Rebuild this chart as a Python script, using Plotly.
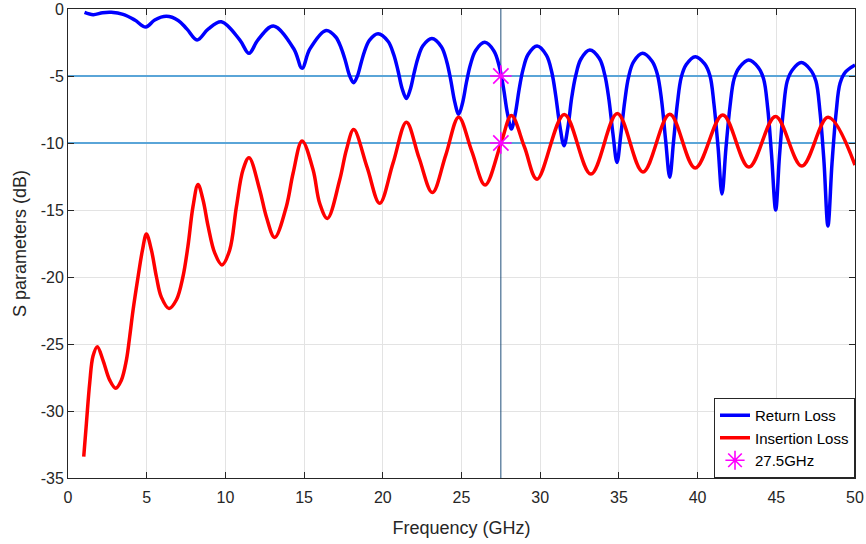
import plotly.graph_objects as go

# Return Loss (blue)
freq_rl = [1.05, 1.6, 2.2, 2.75, 3.5, 4.24, 4.94, 5.51, 6.25, 7.0, 7.56, 8.2, 8.9, 9.74,
           10.91, 11.5, 12.07, 13.05, 14.36, 14.87, 15.36, 16.4,
           17.01, 17.36, 17.63, 17.89, 18.15, 18.38, 18.62, 18.85, 19.16, 19.7,
           20.33, 20.69, 20.96, 21.23, 21.5, 21.74, 21.99, 22.23, 22.55, 23.12,
           23.72, 24.06, 24.31, 24.57, 24.82, 25.07, 25.32, 25.57, 25.9, 26.48,
           27.07, 27.41, 27.66, 27.92, 28.17, 28.41, 28.66, 28.9, 29.23, 29.8,
           30.4, 30.74, 30.98, 31.25, 31.51, 31.76, 32.0, 32.25, 32.58, 33.15,
           33.76, 34.1, 34.36, 34.62, 34.88, 35.12, 35.37, 35.61, 35.93, 36.5,
           37.11, 37.45, 37.71, 37.97, 38.23, 38.47, 38.72, 38.96, 39.28, 39.85,
           40.45, 40.79, 41.04, 41.3, 41.55, 41.8, 42.06, 42.32, 42.66, 43.25,
           43.85, 44.19, 44.45, 44.7, 44.96, 45.2, 45.45, 45.69, 46.02, 46.59,
           47.18, 47.52, 47.77, 48.03, 48.28, 48.54, 48.8, 49.05, 49.4, 50.0]
rl_db = [-0.25, -0.42, -0.28, -0.25, -0.4, -0.82, -1.35, -0.82, -0.55, -0.85, -1.5, -2.31, -1.5, -0.95,
         -2.3, -3.31, -2.3, -1.27, -3.0, -4.43, -3.0, -1.6,
         -2.09, -2.93, -3.9, -4.97, -5.5, -5.02, -4.03, -3.12, -2.32, -1.85,
         -2.41, -3.39, -4.57, -5.95, -6.67, -6.03, -4.77, -3.67, -2.74, -2.2,
         -2.81, -3.91, -5.26, -6.93, -7.86, -7.0, -5.43, -4.14, -3.09, -2.49,
         -3.15, -4.33, -5.84, -7.79, -8.95, -7.87, -6.01, -4.56, -3.4, -2.76,
         -3.46, -4.74, -6.41, -8.73, -10.2, -8.83, -6.63, -5.0, -3.75, -3.06,
         -3.7, -4.9, -6.7, -9.3, -11.45, -9.4, -6.9, -5.1, -3.95, -3.31,
         -3.9, -4.9, -6.8, -9.8, -12.55, -9.9, -7.0, -5.1, -4.15, -3.56,
         -4.1, -5.0, -7.1, -10.3, -13.8, -10.4, -7.25, -5.2, -4.35, -3.8,
         -4.35, -5.2, -7.35, -10.9, -15.0, -11.0, -7.55, -5.4, -4.55, -4.0,
         -4.55, -5.4, -7.6, -11.4, -16.2, -11.5, -7.75, -5.55, -4.7, -4.18]

# Insertion Loss (red)
freq_il = [1.0, 1.17, 1.38, 1.59, 1.86, 2.22, 2.65, 3.03, 3.39, 3.71, 3.92, 4.13, 4.45, 4.73, 4.98,
           5.3, 5.62, 5.93, 6.42, 6.89, 7.3, 7.62, 7.94, 8.26, 8.58, 8.9, 9.32, 9.78,
           10.27, 10.7, 11.12, 11.5, 12.18, 12.6, 13.13, 13.87, 14.3, 14.87, 15.57, 15.99, 16.48,
           17.26, 17.69, 18.15, 19.0, 19.8, 20.65, 21.5, 22.3, 23.15, 24.0, 24.82, 25.65, 26.5,
           27.53, 28.17, 29.0, 29.8, 31.53, 33.22, 34.9, 36.53, 38.23, 39.85, 41.6, 43.26,
           44.95, 46.62, 48.29, 50.0]
il_db = [-33.4, -30.9, -27.9, -25.9, -25.2, -26.2, -27.7, -28.3, -27.7, -26.2, -24.45, -22.5, -20.0, -18.0, -16.8,
         -18.0, -20.0, -21.5, -22.35, -21.7, -20.0, -17.7, -14.75, -13.1, -14.25, -16.2, -18.2, -19.1,
         -18.0, -14.75, -12.0, -11.1, -13.5, -15.5, -17.05, -14.75, -12.26, -9.85, -12.0, -14.5, -15.63,
         -12.76, -10.5, -9.0, -11.8, -14.5, -11.5, -8.45, -11.1, -13.7, -10.9, -8.07, -10.6, -13.13,
         -9.93, -7.95, -10.3, -12.7, -7.87, -12.32, -7.8, -12.16, -7.86, -11.87, -7.91, -11.8,
         -8.02, -11.72, -8.08, -11.65]

marker_freq = [27.5, 27.5]
marker_db = [-5, -10]
threshold_db = [-5, -10]
marker_line_freq = 27.5

x_ticks = list(range(0, 51, 5))
y_ticks = list(range(-35, 1, 5))
x_tick_text = [str(v) for v in x_ticks]
y_tick_text = [str(v) for v in y_ticks]

FONT = "Liberation Sans, Arial, sans-serif"
AX = "#262626"

fig = go.Figure()
fig.add_trace(go.Scatter(x=freq_rl, y=rl_db, mode="lines", name="Return Loss",
                         line=dict(color="#0000FF", width=3.5, shape="spline", smoothing=1.0)))
fig.add_trace(go.Scatter(x=freq_il, y=il_db, mode="lines", name="Insertion Loss",
                         line=dict(color="#FF0000", width=3.5, shape="spline", smoothing=1.0)))
fig.add_trace(go.Scatter(x=marker_freq, y=marker_db, mode="markers", name="27.5GHz",
                         marker=dict(symbol="asterisk-open", size=18, color="#FF00FF",
                                     line=dict(color="#FF00FF", width=1.6))))

for t in threshold_db:
    fig.add_shape(type="line", xref="x", yref="y", x0=0, x1=50, y0=t, y1=t,
                  line=dict(color="#5AA5D8", width=2), layer="between")
fig.add_shape(type="line", xref="x", yref="y", x0=marker_line_freq, x1=marker_line_freq,
              y0=-35, y1=0, line=dict(color="#1F4F7A", width=1), layer="between")

axis_common = dict(showline=True, linecolor=AX, linewidth=1, mirror="ticks",
                   ticks="inside", ticklen=6, tickcolor=AX, automargin=False,
                   showgrid=True, gridcolor="#E3E3E3", gridwidth=1, zeroline=False,
                   tickfont=dict(family=FONT, size=16, color=AX))
fig.update_xaxes(range=[0, 50], tickvals=x_ticks, ticktext=x_tick_text, ticklabelstandoff=5,
                 title=dict(text="Frequency (GHz)", font=dict(family=FONT, size=18, color=AX), standoff=16),
                 **axis_common)
fig.update_yaxes(range=[-35, 0], tickvals=y_ticks, ticktext=y_tick_text,
                 title=dict(text="S parameters (dB)", font=dict(family=FONT, size=18, color=AX), standoff=9),
                 **axis_common)

fig.update_layout(
    width=866, height=544,
    margin=dict(l=68, r=11, t=9, b=66, autoexpand=False),
    paper_bgcolor="white", plot_bgcolor="white",
    font=dict(family=FONT, color=AX),
    legend=dict(x=1, y=0, xanchor="right", yanchor="bottom",
                bgcolor="white", bordercolor=AX, borderwidth=1,
                font=dict(family=FONT, size=15, color="#000000"),
                itemwidth=30, tracegroupgap=0),
    showlegend=True,
)

fig.write_html("out.html", config={"displayModeBar": False},
               post_script="document.body.style.margin='0';document.body.style.overflow='hidden';")
